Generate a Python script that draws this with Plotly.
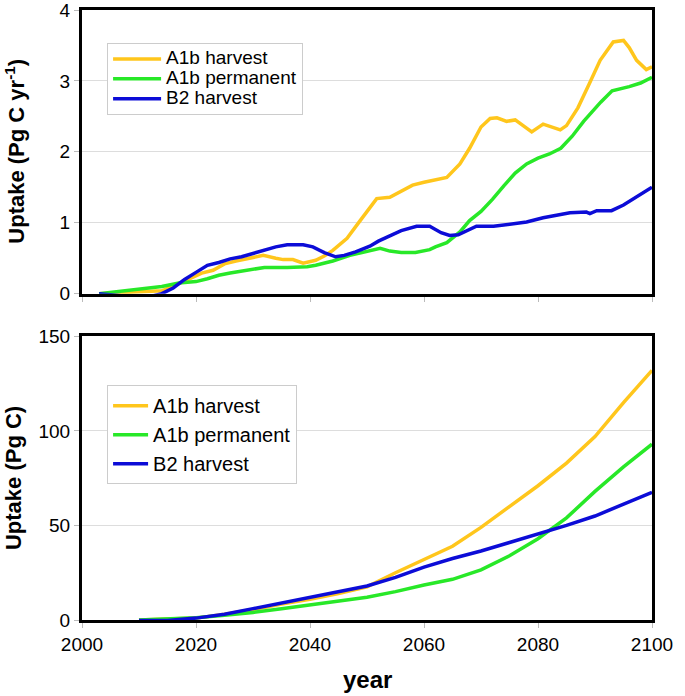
import plotly.graph_objects as go
from plotly.subplots import make_subplots

# top panel: annual uptake (Pg C / yr)
yr_a1b_h = [2003, 2008, 2012, 2014, 2017, 2019, 2021, 2023, 2025, 2027, 2029, 2031.8, 2034, 2035.3, 2037,
            2038.8, 2041, 2042.5, 2044, 2046.5, 2048.8, 2050.5, 2051.7, 2054, 2056, 2058, 2060, 2062, 2064,
            2066.3, 2068, 2070, 2071.6, 2072.8, 2074.5, 2076, 2078.9, 2080.9, 2083.9, 2085, 2087,
            2089, 2090.9, 2093.2, 2095, 2096, 2097.3, 2099, 2100]
up_a1b_h = [0, 0.02, 0.03, 0.04, 0.14, 0.21, 0.29, 0.33, 0.42, 0.46, 0.49, 0.54, 0.50, 0.48, 0.48,
            0.43, 0.47, 0.53, 0.61, 0.78, 1.03, 1.22, 1.34, 1.36, 1.45, 1.53, 1.57, 1.60, 1.64,
            1.83, 2.05, 2.35, 2.47, 2.48, 2.43, 2.45, 2.28, 2.39, 2.31, 2.37, 2.62,
            2.96, 3.29, 3.55, 3.57, 3.47, 3.29, 3.16, 3.20]

yr_a1b_p = [2003, 2006, 2010, 2014, 2017, 2020, 2022, 2024, 2026, 2028, 2030, 2032, 2036, 2039.5, 2041,
            2044, 2047, 2050, 2052.3, 2054, 2056, 2058.5, 2061, 2062, 2064, 2066.3, 2068, 2070, 2072,
            2074, 2076, 2078, 2080, 2082, 2084, 2086, 2088, 2091, 2093, 2096, 2098, 2100]
up_a1b_p = [0, 0.03, 0.06, 0.10, 0.15, 0.17, 0.21, 0.26, 0.29, 0.32, 0.35, 0.37, 0.37, 0.38, 0.40,
            0.46, 0.54, 0.60, 0.64, 0.60, 0.58, 0.58, 0.62, 0.66, 0.72, 0.87, 1.03, 1.16, 1.33,
            1.52, 1.70, 1.83, 1.91, 1.97, 2.05, 2.22, 2.43, 2.70, 2.86, 2.92, 2.97, 3.05]

yr_b2_h = [2003, 2005, 2007, 2009, 2010.8, 2012, 2014, 2016, 2018, 2020, 2022, 2024, 2026, 2028, 2030,
           2032, 2034, 2036, 2038.8, 2040.5, 2042.5, 2044.5, 2046, 2048, 2050.5, 2052, 2053.5, 2056, 2058.7,
           2061, 2063, 2064.5, 2066, 2068, 2069.2, 2072.2, 2075, 2078, 2080.9, 2083.9, 2085.6, 2088.5,
           2089.1, 2090.3, 2092.9, 2095, 2097.3, 2100]
up_b2_h = [0, -0.01, -0.03, -0.05, -0.06, -0.04, 0, 0.08, 0.20, 0.30, 0.40, 0.44, 0.49, 0.52, 0.57,
           0.62, 0.66, 0.69, 0.69, 0.66, 0.58, 0.52, 0.54, 0.59, 0.67, 0.74, 0.80, 0.89, 0.95,
           0.95, 0.86, 0.82, 0.83, 0.90, 0.95, 0.95, 0.98, 1.01, 1.07, 1.12, 1.14, 1.15,
           1.13, 1.17, 1.17, 1.25, 1.37, 1.50]

# bottom panel: cumulative uptake (Pg C)
yr_cum = [2010, 2013, 2015, 2020, 2025, 2030, 2035, 2040, 2045, 2050, 2055, 2060, 2065, 2070,
          2075, 2080, 2085, 2090, 2095, 2100]
cum_a1b_h = [0, 0.2, 0.3, 1.0, 3.0, 5.5, 8.5, 11, 14, 17.5, 25, 32, 39, 49,
             60, 71, 83, 97, 115, 132]
cum_a1b_p = [0, 0.3, 0.5, 1.2, 2.5, 4.0, 6.0, 8.0, 9.8, 12, 15, 18.5, 21.5, 26.5,
             34, 43, 54, 68, 81, 93]
cum_b2_h = [-0.3, -0.5, -0.3, 1.0, 3.0, 6.0, 9.0, 12, 15, 18, 22.5, 28, 32.5, 36.5,
            41, 45.5, 50, 55, 61, 67.5]

names = ["A1b harvest", "A1b permanent", "B2 harvest"]
colors = ["rgb(255,198,28)", "rgb(40,232,40)", "rgb(12,12,215)"]
FONT = "Liberation Sans, Arial, sans-serif"

fig = make_subplots(rows=2, cols=1, vertical_spacing=0.07)

top = [(yr_a1b_h, up_a1b_h), (yr_a1b_p, up_a1b_p), (yr_b2_h, up_b2_h)]
for (x, y), n, c in zip(top, names, colors):
    # bigger text in a span keeps the tight row spacing of the original legend
    label = f'<span style="font-size:19px">{n}</span>'
    fig.add_trace(go.Scatter(x=x, y=y, name=label, mode="lines", line=dict(color=c, width=3.5),
                             legend="legend"), row=1, col=1)

bottom = [cum_a1b_h, cum_a1b_p, cum_b2_h]
for y, n, c in zip(bottom, names, colors):
    fig.add_trace(go.Scatter(x=yr_cum, y=y, name=n, mode="lines", line=dict(color=c, width=3.5),
                             legend="legend2"), row=2, col=1)

ax = dict(showline=True, linewidth=3, linecolor="black", mirror=True, automargin=False,
          ticks="outside", ticklen=5, tickcolor="#bbbbbb", tickwidth=1, ticklabeloverflow="allow",
          tickfont=dict(family=FONT, size=19, color="black"), zeroline=False)
fig.update_xaxes(range=[2000, 2100], dtick=20, showgrid=False, **ax)
fig.update_xaxes(showticklabels=False, row=1, col=1)
fig.update_yaxes(showgrid=True, gridcolor="#dddddd", gridwidth=1, **ax)
fig.update_yaxes(range=[0, 4], dtick=1, row=1, col=1)
fig.update_yaxes(range=[0, 150], dtick=50, row=2, col=1)

fig.update_layout(
    width=685, height=696,
    margin=dict(l=82, r=33, t=10, b=76),
    plot_bgcolor="white", paper_bgcolor="white",
    font=dict(family=FONT, color="black"),
    legend=dict(x=0.044, y=0.946, xanchor="left", yanchor="top", bgcolor="white",
                bordercolor="#cccccc", borderwidth=1, font=dict(size=13),
                itemwidth=48),
    legend2=dict(x=0.044, y=0.385, xanchor="left", yanchor="top", bgcolor="white",
                 bordercolor="#cccccc", borderwidth=1, font=dict(size=20),
                 itemwidth=35),
)

title_font = dict(family=FONT, size=22, color="black")
fig.add_annotation(text="<b>Uptake (Pg C yr<sup>-1</sup>)</b>", xref="paper", yref="paper",
                   x=-0.119, y=0.768, xanchor="center", yanchor="middle", textangle=-90,
                   showarrow=False, font=title_font)
fig.add_annotation(text="<b>Uptake (Pg C)</b>", xref="paper", yref="paper",
                   x=-0.119, y=0.233, xanchor="center", yanchor="middle", textangle=-90,
                   showarrow=False, font=title_font)
fig.add_annotation(text="<b>year</b>", xref="paper", yref="paper", x=0.5, y=-0.098,
                   xanchor="center", yanchor="middle", showarrow=False,
                   font=dict(family=FONT, size=24, color="black"))

# page body has an 8px default margin; drop it so the figure fills the window
fig.write_html("out.html", config={"displayModeBar": False},
               post_script="document.body.style.margin='0';")
